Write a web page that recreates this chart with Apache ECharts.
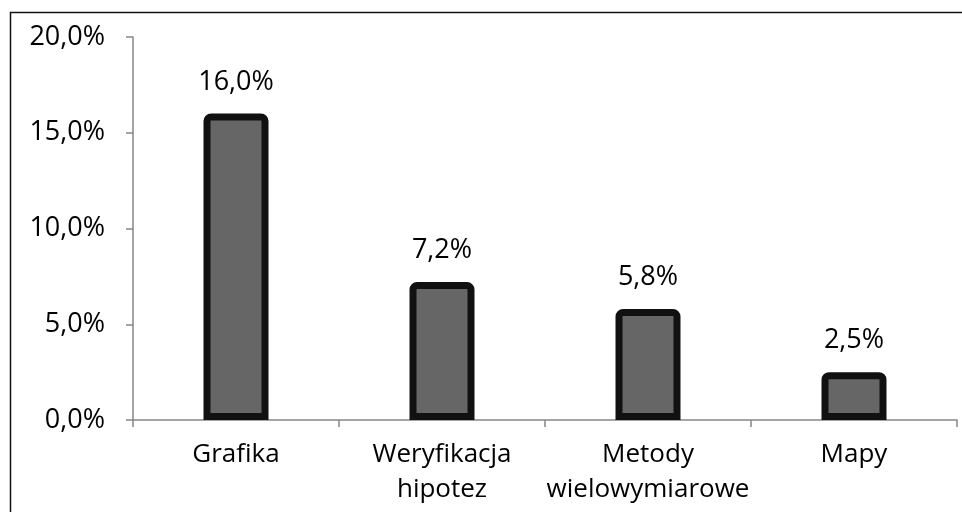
<!DOCTYPE html>
<html>
<head>
<meta charset="utf-8">
<script src="https://cdn.jsdelivr.net/npm/echarts@6/dist/echarts.min.js"></script>
<style>html,body{margin:0;padding:0;background:#fff;}#c{width:962px;height:512px;}</style>
</head>
<body>
<div id="c"></div>
<script>
var categories = ['Grafika', 'Weryfikacja\nhipotez', 'Metody\nwielowymiarowe', 'Mapy'];
var values = [16.0, 7.2, 5.8, 2.5];
var yTicks = [0, 5, 10, 15, 20];

function pct(v) { return Number(v).toFixed(1).replace('.', ',') + '%'; }

var chart = echarts.init(document.getElementById('c'));
chart.setOption({
  animation: false,
  backgroundColor: '#fff',
  textStyle: { fontFamily: 'Open Sans' },
  graphic: [{
    type: 'rect',
    shape: { x: 10.5, y: 12.5, width: 1200, height: 1000 },
    style: { fill: 'none', stroke: '#111', lineWidth: 1.5 },
    silent: true
  }],
  grid: { left: 133, right: 5, top: 37, bottom: 92, containLabel: false },
  xAxis: {
    type: 'category',
    data: categories,
    axisLine: { lineStyle: { color: '#868686', width: 1.5 } },
    axisTick: { show: true, length: 7, alignWithLabel: false, lineStyle: { color: '#868686', width: 1.5 } },
    axisLabel: { interval: 0, color: '#000', fontSize: 26, lineHeight: 35, margin: 17, fontFamily: 'Open Sans' }
  },
  yAxis: {
    type: 'value',
    min: yTicks[0],
    max: yTicks[yTicks.length - 1],
    interval: 5,
    axisLine: { show: true, lineStyle: { color: '#868686', width: 1.5 } },
    axisTick: { show: true, length: 7, lineStyle: { color: '#868686', width: 1.5 } },
    splitLine: { show: false },
    axisLabel: { color: '#000', fontSize: 27, margin: 28, fontFamily: 'Open Sans', formatter: pct }
  },
  series: [{
    type: 'bar',
    data: values,
    barWidth: 65,
    itemStyle: { color: '#666666', borderColor: '#111111', borderWidth: 7, borderRadius: [4, 4, 0, 0] },
    label: { show: true, position: 'top', distance: 18, color: '#000', fontSize: 27, fontFamily: 'Open Sans', formatter: function (p) { return pct(p.value); } }
  }]
});
</script>
</body>
</html>
